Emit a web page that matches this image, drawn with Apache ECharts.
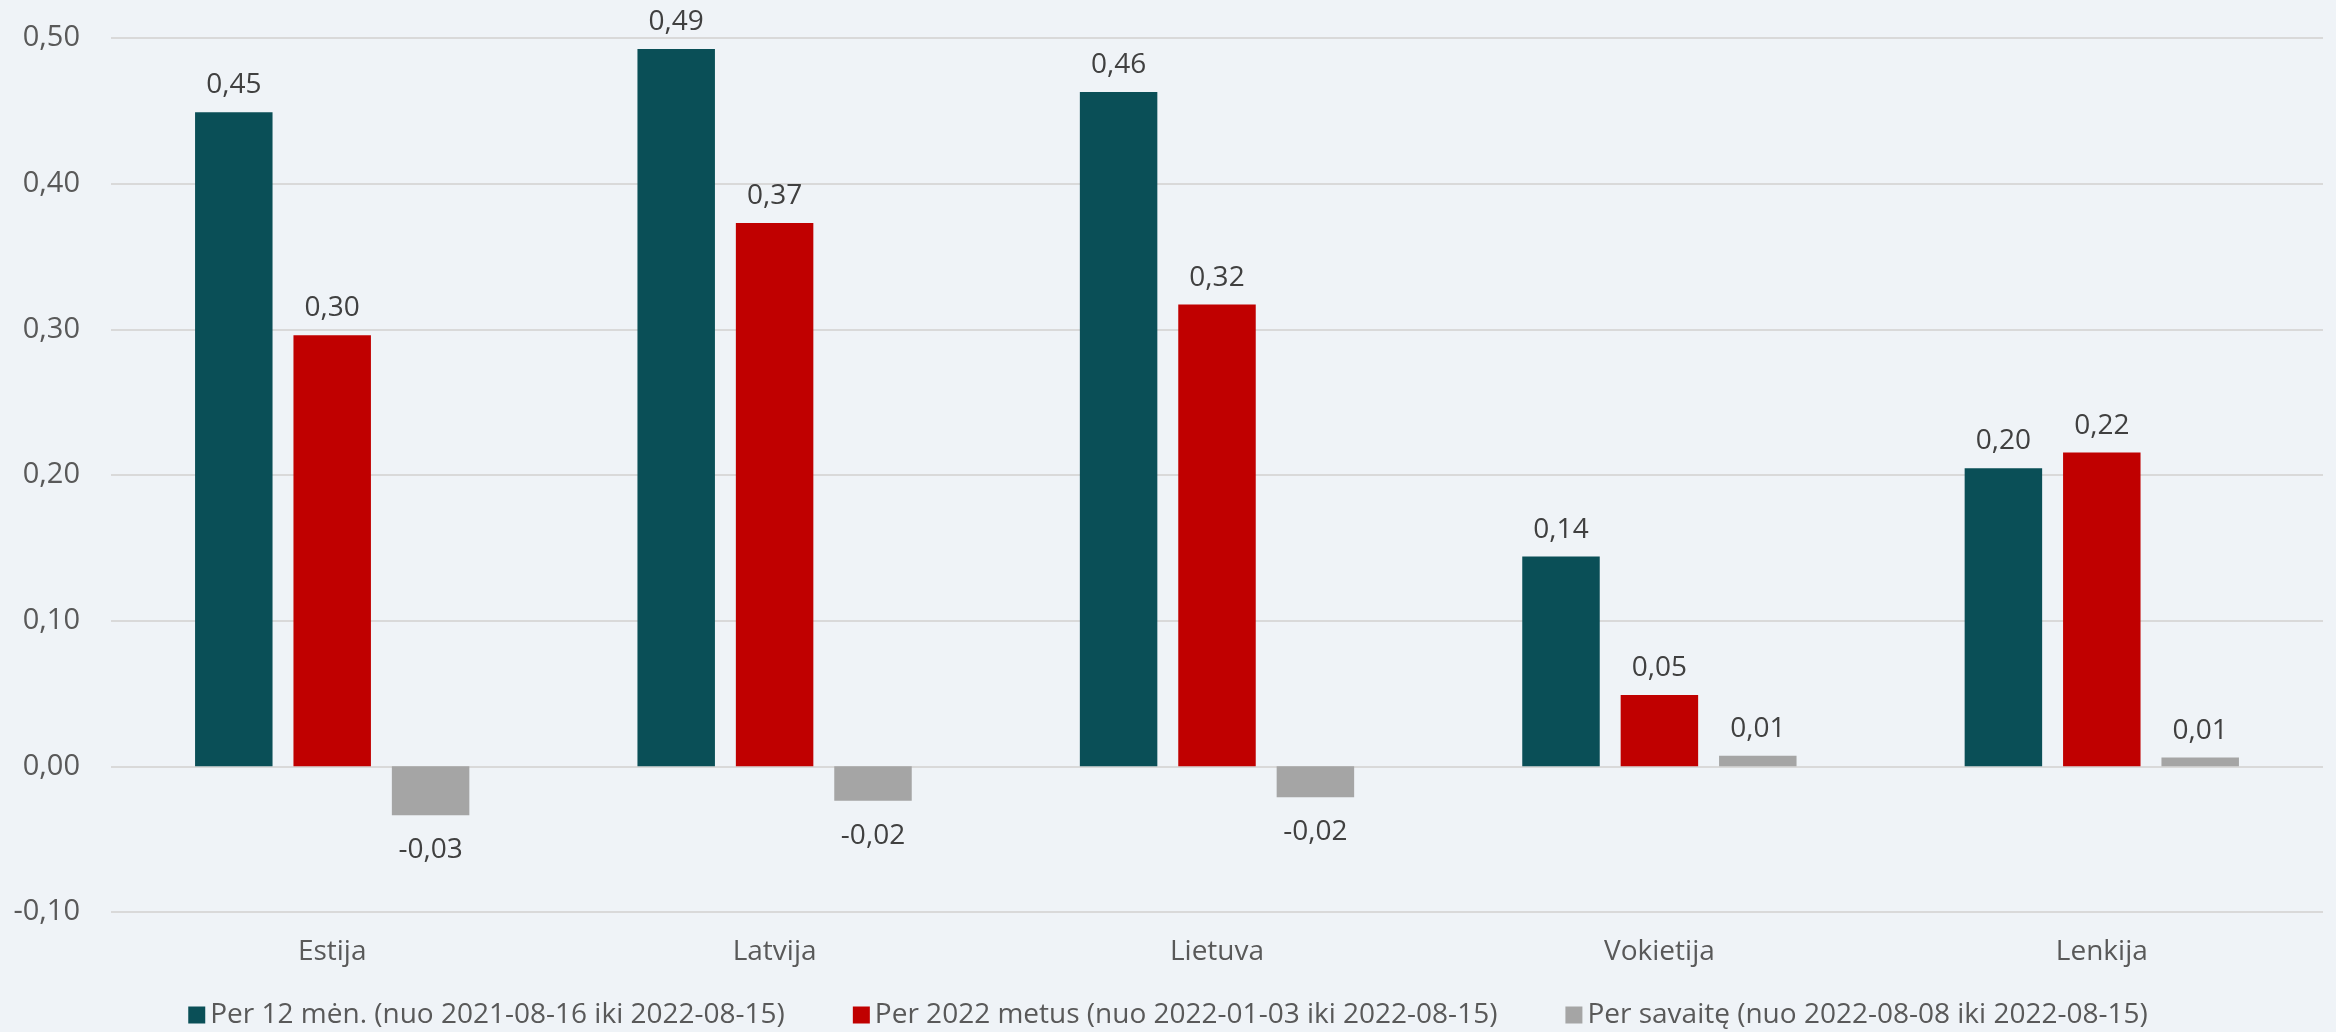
<!DOCTYPE html>
<html>
<head>
<meta charset="utf-8">
<script src="https://cdn.jsdelivr.net/npm/echarts@6/dist/echarts.min.js"></script>
<style>
html,body{margin:0;padding:0;background:#EFF3F7;}
#chart{width:2336px;height:1032px;}
</style>
</head>
<body>
<div id="chart"></div>
<script>
const categories = ['Estija', 'Latvija', 'Lietuva', 'Vokietija', 'Lenkija'];
const seriesNames = [
  'Per 12 mėn. (nuo 2021-08-16 iki 2022-08-15)',
  'Per 2022 metus (nuo 2022-01-03 iki 2022-08-15)',
  'Per savaitę (nuo 2022-08-08 iki 2022-08-15)'
];
const per12men = [0.449, 0.4925, 0.463, 0.144, 0.2046];
const per2022 = [0.296, 0.373, 0.317, 0.049, 0.2154];
const perSavaite = [-0.0336, -0.0237, -0.0212, 0.0073, 0.006];
const yTicks = { min: -0.1, max: 0.5, interval: 0.1 };
const colors = ['#0A4F57', '#C00000', '#A5A5A5'];

const fmt = v => v.toFixed(2).replace('.', ',');
const FONT = '"Open Sans", sans-serif';

function makeSeries(name, values, color) {
  return {
    name: name,
    type: 'bar',
    barGap: '27%',
    barCategoryGap: '38%',
    itemStyle: { color: color },
    data: values.map(v => ({
      value: v,
      label: v < 0 ? { position: 'bottom', distance: 21 } : { position: 'top', distance: 13 }
    })),
    label: {
      show: true,
      fontFamily: FONT,
      fontSize: 28,
      color: '#404040',
      formatter: p => fmt(p.value)
    }
  };
}

const chart = echarts.init(document.getElementById('chart'));
chart.setOption({
  backgroundColor: '#EFF3F7',
  animation: false,
  grid: { left: 111, right: 13, top: 38, bottom: 120, containLabel: false },
  legend: {
    bottom: -2,
    left: 'center',
    itemWidth: 17,
    itemHeight: 17,
    itemGap: 68,
    icon: 'rect',
    textStyle: { fontFamily: FONT, fontSize: 28, color: '#595959' },
    data: seriesNames
  },
  xAxis: {
    type: 'category',
    data: categories,
    axisLine: { show: false },
    axisTick: { show: false },
    axisLabel: { fontFamily: FONT, fontSize: 28, color: '#595959', margin: 26 }
  },
  yAxis: {
    type: 'value',
    min: yTicks.min,
    max: yTicks.max,
    interval: yTicks.interval,
    axisLine: { show: false },
    axisTick: { show: false },
    splitLine: { lineStyle: { color: '#D9D9D9', width: 2 } },
    axisLabel: { fontFamily: FONT, fontSize: 29, color: '#595959', margin: 31, formatter: v => fmt(v) }
  },
  series: [
    makeSeries(seriesNames[0], per12men, colors[0]),
    makeSeries(seriesNames[1], per2022, colors[1]),
    makeSeries(seriesNames[2], perSavaite, colors[2])
  ]
});
</script>
</body>
</html>
